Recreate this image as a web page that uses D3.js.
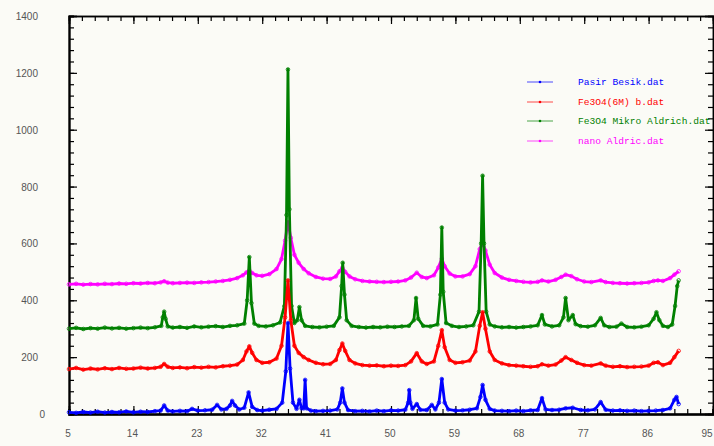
<!DOCTYPE html>
<html><head><meta charset="utf-8">
<script src="https://cdn.jsdelivr.net/npm/d3@7"></script>
<style>
html,body{margin:0;padding:0;background:#fbfbf6;}
svg{display:block;}
</style></head>
<body>
<svg id="chart" width="714" height="446"></svg>
<script>
// ---- data (2theta, intensity) ----
const xTicks = [5, 14, 23, 32, 41, 50, 59, 68, 77, 86, 95];
const yTicks = [0, 200, 400, 600, 800, 1000, 1200, 1400];
const seriesNames = ["Pasir Besik.dat", "Fe3O4(6M) b.dat", "Fe3O4 Mikro Aldrich.dat", "nano Aldric.dat"];
const seriesColors = ["#0000ff", "#ff0000", "#008000", "#ff00ff"];

const pasirBesi = [[5,6],[6,4],[7,7],[8,5],[9,8],[10,5],[11,7],[12,6],[13,9],[14,6],[15,8],[16,7],[17,10],[17.8,12],[18.3,30],[18.8,12],[19.5,9],[20.5,11],[21.5,10],[22.2,18],[23,12],[24,13],[25,15],[25.7,32],[26.3,16],[27,18],[27.5,30],[27.8,46],[28.2,30],[28.8,16],[29.5,22],[30.1,76],[30.6,25],[31.3,14],[32,12],[33,15],[34,18],[34.8,40],[35.3,150],[35.6,320],[35.9,160],[36.3,40],[36.8,18],[37.2,50],[37.5,20],[37.8,20],[38.0,120],[38.2,20],[38.8,12],[39.5,10],[40.5,11],[41.5,12],[42.5,16],[42.9,40],[43.2,90],[43.5,40],[44,14],[45,10],[46,11],[47,9],[48,12],[49,10],[50,13],[51,12],[52,15],[52.4,40],[52.55,84],[52.7,40],[53,18],[53.6,35],[54.1,15],[55,14],[55.7,32],[56.2,16],[56.7,40],[57.1,123],[57.5,40],[58,16],[59,12],[60,13],[61,15],[62,20],[62.5,60],[62.8,102],[63.2,50],[63.8,18],[64.5,12],[65.5,11],[66.5,10],[67.5,12],[68.5,10],[69.5,13],[70.5,14],[71.1,56],[71.6,16],[72.5,14],[73.5,15],[74.4,20],[75.4,22],[76.5,14],[77.5,13],[78.5,16],[79.3,42],[80,15],[81,12],[82,13],[83,11],[84,12],[85,10],[86,11],[87,12],[88,14],[89,20],[89.6,50],[89.9,60],[90.2,35]];

const fe3o4_6M = [[5,158],[6,162],[7,156],[8,160],[9,157],[10,161],[11,158],[12,162],[13,159],[14,160],[15,163],[16,160],[17,162],[17.8,166],[18.3,176],[18.8,166],[19.5,162],[20.5,164],[21.5,161],[22.5,165],[23.5,163],[24.5,166],[25.5,164],[26.5,168],[27.5,170],[28.5,174],[29.3,190],[29.8,220],[30.2,238],[30.6,215],[31.2,190],[32,180],[33,182],[34,195],[34.7,240],[35.2,340],[35.6,470],[36.0,330],[36.5,240],[37.1,215],[37.8,200],[38.5,190],[39.5,180],[40.5,175],[41.5,176],[42.3,190],[42.8,225],[43.2,248],[43.6,222],[44.2,190],[45,178],[46,172],[47,170],[48,171],[49,168],[50,170],[51,169],[52,172],[52.8,185],[53.6,214],[54.3,185],[55,176],[56,185],[56.6,240],[57.1,295],[57.5,235],[58.2,190],[59,180],[60,182],[61,188],[61.8,220],[62.4,310],[62.8,358],[63.2,300],[63.8,220],[64.5,190],[65.5,178],[66.5,172],[67.5,170],[68.5,168],[69.5,166],[70.5,168],[71.1,175],[72,170],[73,174],[73.8,188],[74.4,200],[75.2,190],[76,180],[77,172],[78,170],[79.3,178],[80,170],[81,166],[82,168],[83,165],[84,166],[85,167],[86,170],[86.7,180],[87.3,182],[88,172],[89,180],[89.6,200],[90.2,222]];

const fe3o4Mikro = [[5,300],[6,303],[7,299],[8,302],[9,300],[10,304],[11,301],[12,303],[13,300],[14,302],[15,304],[16,302],[17,305],[17.9,310],[18.1,340],[18.3,360],[18.5,335],[18.8,308],[19.5,304],[20.5,306],[21.5,303],[22.5,308],[23.5,305],[24.5,307],[25.5,309],[26.5,306],[27.5,310],[28.5,312],[29.5,318],[29.9,400],[30.2,552],[30.5,390],[30.9,318],[31.5,310],[32.5,308],[33.5,312],[34.5,322],[35.1,380],[35.4,700],[35.6,1212],[35.8,720],[36.1,380],[36.5,320],[36.9,330],[37.2,376],[37.5,330],[38,310],[39,306],[40,305],[41,307],[42,310],[42.8,340],[43.1,450],[43.25,532],[43.5,420],[43.8,330],[44.5,310],[45.5,306],[46.5,304],[47.5,306],[48.5,305],[49.5,307],[50.5,306],[51.5,308],[52.5,310],[53.2,330],[53.5,408],[53.8,335],[54.5,310],[55.5,308],[56.5,315],[56.9,420],[57.1,656],[57.3,430],[57.7,320],[58.5,310],[59.5,306],[60.5,308],[61.5,312],[62.3,360],[62.6,600],[62.8,838],[63.0,600],[63.3,360],[63.8,315],[64.5,308],[65.5,305],[66.5,306],[67.5,304],[68.5,306],[69.5,308],[70.5,312],[71.1,348],[71.5,315],[72.5,308],[73.5,312],[74.1,340],[74.4,408],[74.8,330],[75.4,348],[75.8,316],[76.5,309],[77.5,307],[78.5,312],[79.3,338],[79.8,312],[80.5,306],[81.5,307],[82.2,318],[83,306],[84,305],[85,307],[86,312],[86.7,335],[87.1,358],[87.5,330],[88,310],[88.7,306],[89.3,315],[89.7,380],[90.0,450],[90.2,470]];

const nanoAldric = [[5,456],[6,458],[7,455],[8,457],[9,456],[10,458],[11,457],[12,459],[13,458],[14,460],[15,459],[16,461],[17,460],[17.8,463],[18.3,467],[18.8,462],[19.5,460],[20.5,461],[21.5,462],[22.5,461],[23.5,463],[24.5,464],[25.5,466],[26.5,468],[27.5,472],[28.5,478],[29.3,488],[29.8,498],[30.2,505],[30.6,496],[31.2,488],[32,486],[33,492],[34,510],[34.7,545],[35.2,610],[35.6,675],[36.0,620],[36.5,560],[37.1,532],[37.8,510],[38.5,495],[39.5,482],[40.5,476],[41.5,475],[42.3,484],[42.8,502],[43.2,515],[43.6,500],[44.2,484],[45,474],[46,468],[47,466],[48,465],[49,464],[50,465],[51,466],[52,470],[52.8,480],[53.6,497],[54.3,482],[55,478],[56,488],[56.6,515],[57.1,546],[57.5,520],[58.2,494],[59,484],[60,484],[61,492],[61.8,520],[62.4,580],[62.8,602],[63.2,575],[63.8,525],[64.5,496],[65.5,480],[66.5,472],[67.5,468],[68.5,465],[69.5,463],[70.5,465],[71.1,470],[72,466],[73,472],[73.8,482],[74.4,490],[75.2,485],[76,474],[77,466],[78,464],[79.3,470],[80,464],[81,461],[82,460],[83,459],[84,460],[85,461],[86,463],[86.7,468],[87.3,470],[88,468],[89,478],[89.6,490],[90.2,502]];

const seriesData = [pasirBesi, fe3o4_6M, fe3o4Mikro, nanoAldric];
const drawOrder = [3, 2, 1, 0];

// ---- layout ----
const L = 69, R = 713, T = 16, B = 414;
const svg = d3.select("#chart");
const x = d3.scaleLinear().domain([5, 95]).range([L, R]);
const y = d3.scaleLinear().domain([0, 1400]).range([B, T]);

const xMinor = d3.range(0, 51).map(i => 5 + i * 1.8);
const yMinor = d3.range(0, 36).map(i => i * 40);

// frame axes
const gl = svg.append("g").attr("transform", `translate(${L},0)`)
  .call(d3.axisRight(y).tickValues(yMinor).tickSize(5).tickFormat(""));
const gl2 = svg.append("g").attr("transform", `translate(${L},0)`)
  .call(d3.axisRight(y).tickValues(yTicks).tickSize(8).tickFormat(""));
const gr = svg.append("g").attr("transform", `translate(${R},0)`)
  .call(d3.axisLeft(y).tickValues(yMinor).tickSize(5).tickFormat(""));
const gr2 = svg.append("g").attr("transform", `translate(${R},0)`)
  .call(d3.axisLeft(y).tickValues(yTicks).tickSize(8).tickFormat(""));
const gt = svg.append("g").attr("transform", `translate(0,${T})`)
  .call(d3.axisBottom(x).tickValues(xMinor).tickSize(5).tickFormat(""));
const gt2 = svg.append("g").attr("transform", `translate(0,${T})`)
  .call(d3.axisBottom(x).tickValues(xTicks).tickSize(8).tickFormat(""));
const gb = svg.append("g").attr("transform", `translate(0,${B})`)
  .call(d3.axisTop(x).tickValues(xMinor).tickSize(5).tickFormat(""));
const gb2 = svg.append("g").attr("transform", `translate(0,${B})`)
  .call(d3.axisTop(x).tickValues(xTicks).tickSize(8).tickFormat(""));
[gl, gl2, gr, gr2, gt, gt2, gb, gb2].forEach(g => {
  g.selectAll(".domain").attr("stroke", "#000").attr("stroke-width", 1.5);
  g.selectAll(".tick line").attr("stroke", "#000").attr("stroke-width", 1.2);
});
gl.select(".domain").attr("stroke-width", 2.2);
gb.select(".domain").attr("stroke-width", 2.5);

// tick labels
svg.append("g").selectAll("text").data(xTicks).join("text")
  .attr("x", d => d === 95 ? 707 : x(d) - 1).attr("y", 437)
  .attr("text-anchor", "middle")
  .attr("font-family", "Liberation Sans, Arial, sans-serif")
  .attr("font-size", 10).attr("fill", "#555")
  .text(d => d);
svg.append("g").selectAll("text").data(yTicks).join("text")
  .attr("x", d => d === 0 ? 45 : 38).attr("y", d => y(d) + 4)
  .attr("text-anchor", "end")
  .attr("font-family", "Liberation Sans, Arial, sans-serif")
  .attr("font-size", 10).attr("fill", "#555")
  .text(d => d);

// series
const line = d3.line().x(d => x(d[0])).y(d => y(d[1]));
drawOrder.forEach(i => {
  const g = svg.append("g");
  g.append("path").datum(seriesData[i])
    .attr("fill", "none").attr("stroke", seriesColors[i])
    .attr("stroke-width", 2.8).attr("stroke-linejoin", "round")
    .attr("d", line);
  g.selectAll("circle").data(seriesData[i]).join("circle")
    .attr("cx", d => x(d[0])).attr("cy", d => y(d[1])).attr("r", 1.8)
    .attr("fill", "none").attr("stroke", seriesColors[i]).attr("stroke-width", 0.8);
});

// legend
const legY = [82, 102, 121, 141];
const lg = svg.append("g");
seriesNames.forEach((name, i) => {
  lg.append("line").attr("x1", 527).attr("x2", 553).attr("y1", legY[i]).attr("y2", legY[i])
    .attr("stroke", seriesColors[i]).attr("stroke-width", 1).attr("opacity", 0.7);
  lg.append("circle").attr("cx", 540).attr("cy", legY[i]).attr("r", 1.3).attr("fill", seriesColors[i]);
  lg.append("text").attr("x", 578).attr("y", legY[i] + 3)
    .attr("font-family", "Liberation Mono, DejaVu Sans Mono, monospace")
    .attr("font-size", 9.6).attr("fill", seriesColors[i])
    .text(name);
});
</script>
</body></html>
